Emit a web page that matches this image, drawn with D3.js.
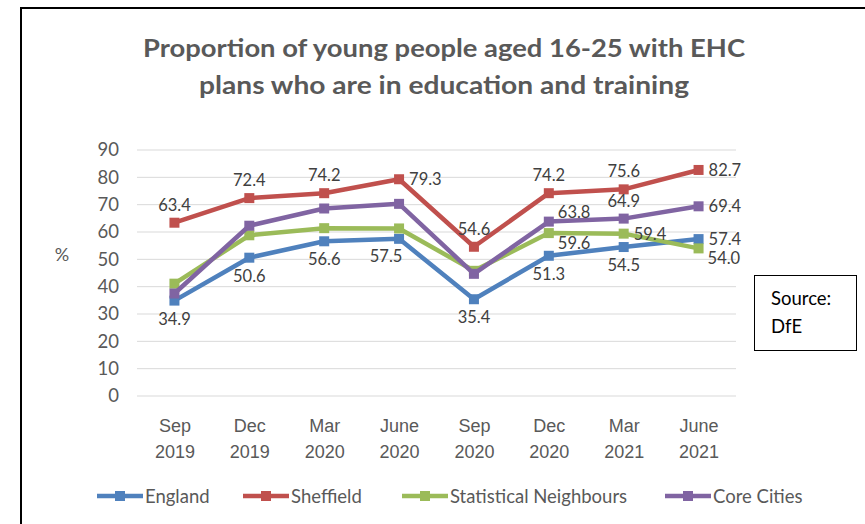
<!DOCTYPE html>
<html><head><meta charset="utf-8">
<script src="https://cdn.jsdelivr.net/npm/d3@7"></script>
<style>
html,body{margin:0;padding:0;background:#fff;}
svg{display:block;font-family:Lato,"Open Sans",sans-serif;}
</style></head>
<body>
<svg id="chart" width="865" height="524"></svg>
<script>
const categories = ["Sep|2019","Dec|2019","Mar|2020","June|2020","Sep|2020","Dec|2020","Mar|2021","June|2021"];
const england = [34.9, 50.6, 56.6, 57.5, 35.4, 51.3, 54.5, 57.4];
const sheffield = [63.4, 72.4, 74.2, 79.3, 54.6, 74.2, 75.6, 82.7];
const statNeighbours = [41.1, 58.8, 61.4, 61.3, 45.8, 59.6, 59.4, 54.0];
const coreCities = [37.5, 62.3, 68.6, 70.3, 44.7, 63.8, 64.9, 69.4];
const yTicks = [0,10,20,30,40,50,60,70,80,90];
const seriesNames = ["England","Sheffield","Statistical Neighbours","Core Cities"];
const seriesColors = ["#4F81BD","#C0504D","#9BBB59","#8064A2"];
const labelPos = {
  "England":   ["b","b","b","bl","b","b","b","r"],
  "Sheffield": ["t","t","t","r","t","t","t","r"],
  "Statistical Neighbours": [null,null,null,null,null,"br","r","br"],
  "Core Cities": [null,null,null,null,null,"tr","t","r"]
};

const svg = d3.select("#chart");
const W = 865, H = 524;
const m = {left:137, right:129, top:150, bottom:128};

svg.append("path").attr("d","M21,524 L21,8 L865,8").attr("fill","none").attr("stroke","#000").attr("stroke-width",2);

const x = d3.scalePoint().domain(categories).range([m.left, W - m.right]).padding(0.5);
const y = d3.scaleLinear().domain([0,90]).range([396, 150]);

const grid = svg.append("g").attr("class","grid");
grid.selectAll("line").data(yTicks).join("line")
  .attr("x1", m.left).attr("x2", W - m.right)
  .attr("y1", d => y(d)).attr("y2", d => y(d))
  .attr("stroke","#d9d9d9").attr("stroke-width",1);

const yAxis = d3.axisLeft(y).tickValues(yTicks).tickSize(0).tickPadding(0);
const yg = svg.append("g").attr("transform",`translate(119,0)`).call(yAxis);
yg.select(".domain").remove();
yg.selectAll("text").attr("font-size",18.5).attr("fill","#595959").attr("font-family","Lato, sans-serif");

svg.append("text").attr("x",62).attr("y",261).attr("text-anchor","middle")
  .attr("font-size",18).attr("fill","#595959").text("%");

const xAxis = d3.axisBottom(x).tickSize(0).tickFormat(() => "");
const xg = svg.append("g").attr("transform",`translate(0,396)`).call(xAxis);
xg.select(".domain").remove();
xg.selectAll(".tick").each(function(d){
  const parts = d.split("|");
  const t = d3.select(this).append("text").attr("fill","#595959").attr("font-size",18).attr("text-anchor","middle");
  t.append("tspan").attr("x",0).attr("y",36).text(parts[0]);
  t.append("tspan").attr("x",0).attr("y",62).text(parts[1]);
});

const seriesData = [england, sheffield, statNeighbours, coreCities];
const line = d3.line().x((d,i) => x(categories[i])).y(d => y(d));

seriesData.forEach((vals, si) => {
  const g = svg.append("g");
  g.append("path").datum(vals).attr("d", line).attr("fill","none")
    .attr("stroke", seriesColors[si]).attr("stroke-width",4.5).attr("stroke-linejoin","round");
  g.selectAll("rect").data(vals).join("rect")
    .attr("x",(d,i) => x(categories[i]) - 5).attr("y", d => y(d) - 5)
    .attr("width",10).attr("height",10).attr("fill", seriesColors[si]);
});

const offs = {
  t:[0,-12,"middle"], b:[0,24,"middle"], r:[10,6,"start"], bl:[-13,23,"middle"],
  br:[9,16,"start"], tr:[9,-4,"start"]
};
seriesData.forEach((vals, si) => {
  const pos = labelPos[seriesNames[si]];
  vals.forEach((v,i) => {
    const p = pos[i];
    if (!p) return;
    const o = offs[p];
    svg.append("text").attr("x", x(categories[i]) + o[0]).attr("y", y(v) + o[1])
      .attr("text-anchor", o[2]).attr("font-size",16.5).attr("fill","#404040")
      .text(v.toFixed(1));
  });
});

svg.append("text").attr("x",444).attr("y",57).attr("text-anchor","middle")
  .attr("font-size",25).attr("font-weight",700).attr("fill","#595959")
  .attr("textLength",602).attr("lengthAdjust","spacingAndGlyphs")
  .text("Proportion of young people aged 16-25 with EHC");
svg.append("text").attr("x",444).attr("y",94).attr("text-anchor","middle")
  .attr("font-size",25).attr("font-weight",700).attr("fill","#595959")
  .attr("textLength",490).attr("lengthAdjust","spacingAndGlyphs")
  .text("plans who are in education and training");

const legX = [97, 243, 402, 665];
seriesNames.forEach((n, i) => {
  const g = svg.append("g").attr("transform",`translate(${legX[i]},496)`);
  g.append("line").attr("x1",0).attr("x2",46).attr("y1",0).attr("y2",0)
    .attr("stroke",seriesColors[i]).attr("stroke-width",4.5);
  g.append("rect").attr("x",18).attr("y",-5).attr("width",10).attr("height",10).attr("fill",seriesColors[i]);
  g.append("text").attr("x",48).attr("y",7).attr("font-size",18.5).attr("fill","#595959").text(n);
});

svg.append("rect").attr("x",754.5).attr("y",275.5).attr("width",102).attr("height",75)
  .attr("fill","#fff").attr("stroke","#000").attr("stroke-width",1);
svg.append("text").attr("x",771).attr("y",305).attr("font-size",18.5).attr("fill","#000").text("Source:");
svg.append("text").attr("x",771).attr("y",333).attr("font-size",18.5).attr("fill","#000").text("DfE");
</script>
</body></html>
